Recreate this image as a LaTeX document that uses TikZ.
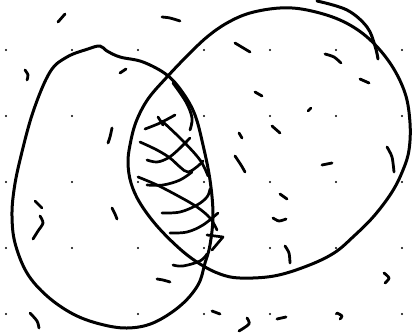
\documentclass[tikz,border=0pt]{standalone}
\usepackage{tikz}
\usetikzlibrary{calc}
\definecolor{cInk}{RGB}{0,0,0}
\tikzset{
	outline/.style ={draw=cInk, line width=3pt, line cap=round, line join=round},
	scribble/.style={draw=cInk, line width=2.8pt, line cap=round, line join=round},
	hatch/.style   ={draw=cInk, line width=2.7pt, line cap=round, line join=round},
	% grid of small dots behind the sketch
	griddot/.style ={fill=cInk, draw=none},
}
\begin{document}
\begin{tikzpicture}[x=1pt, y=-1pt]
	\useasboundingbox (0,0) rectangle (414,332);
	\fill[white] (0,0) rectangle (414,332);
	\foreach \gx in {6,72,138,204,270,336,402}
		\foreach \gy in {50,116,182,248,314}
			\fill[griddot] (\gx,\gy) circle (1.2pt);
	% left set
	\draw[outline] plot[smooth cycle, tension=0.6] coordinates {(100,46) (107,51) (120,57) (143,62) (167,75) (183,93) (195,115) (203,145) (210,180) (213,215) (210,245) (205,263) (198,285) (180,306) (153,323) (127,328) (100,324) (73,314) (47,296) (27,273) (15,243) (12,216) (14,190) (20,160) (33,112) (50,72) (67,57) (88,49)};
	% right set
	\draw[outline] plot[smooth cycle, tension=0.6] coordinates {(207,37) (227,23) (250,13) (280,8) (307,10) (340,20) (367,37) (390,63) (405,93) (410,123) (409,150) (403,170) (392,192) (374,216) (354,236) (334,253) (307,266) (274,276) (240,278) (220,274) (200,264) (180,249) (157,226) (140,203) (131,183) (128,163) (130,145) (136,122) (148,99) (167,77) (187,56)};
	\draw[outline] plot[smooth, tension=0.6] coordinates {(317,1) (347,10) (367,27) (375,46) (378,59)};
	\draw[scribble] plot[smooth, tension=0.6] coordinates {(173,83) (186,102) (192,118) (190,130)};
	% hatching in the overlap
	\draw[hatch] plot[smooth, tension=0.6] coordinates {(145,129) (160,123) (175,115)};
	\draw[hatch] (158,117) -- (163,125);
	\draw[hatch] plot[smooth, tension=0.6] coordinates {(162,121) (182,140) (200,160) (208,176)};
	\draw[hatch] plot[smooth, tension=0.6] coordinates {(140,142) (157,150) (170,158) (180,167) (188,172) (198,166) (203,161)};
	\draw[hatch] plot[smooth, tension=0.6] coordinates {(147,160) (157,162) (168,158) (178,150) (190,138)};
	\draw[hatch] plot[smooth, tension=0.6] coordinates {(138,177) (157,185) (180,197) (197,207) (210,218) (217,230)};
	\draw[hatch] plot[smooth, tension=0.6] coordinates {(147,185) (163,185) (180,180) (192,172)};
	\draw[hatch] plot[smooth, tension=0.6] coordinates {(162,213) (180,212) (197,205) (207,197) (210,189)};
	\draw[hatch] plot[smooth, tension=0.6] coordinates {(170,233) (187,232) (203,225) (218,213)};
	\draw[hatch] plot[smooth, tension=0.6] coordinates {(173,265) (183,266) (200,261) (207,254)};
	\draw[hatch] (207,235) -- (223,237) -- (212,250);
	% loose strokes
	\draw[scribble] (58,22) -- (65,14);
	\draw[scribble] plot[smooth] coordinates {(162,17) (170,18) (180,21)};
	\draw[scribble] plot[smooth] coordinates {(25,70) (28,75) (27,80)};
	\draw[scribble] (120,73) -- (126,69);
	\draw[scribble] plot[smooth] coordinates {(112,128) (110,137) (108,143)};
	\draw[scribble] (235,43) -- (250,52);
	\draw[scribble] plot[smooth] coordinates {(325,54) (334,57) (341,63)};
	\draw[scribble] (360,79) -- (369,83);
	\draw[scribble] (255,92) -- (262,96);
	\draw[scribble] (308,111) -- (311,108);
	\draw[scribble] (272,126) -- (280,133);
	\draw[scribble] (239,133) -- (242,138);
	\draw[scribble] plot[smooth] coordinates {(235,156) (241,165) (245,172)};
	\draw[scribble] plot[smooth] coordinates {(387,147) (392,157) (394,172)};
	\draw[scribble] (322,165) -- (332,163);
	\draw[scribble] (35,201) -- (42,208);
	\draw[scribble] plot[smooth] coordinates {(40,216) (43,223) (38,231) (33,239)};
	\draw[scribble] plot[smooth] coordinates {(112,208) (115,214) (117,219)};
	\draw[scribble] plot[smooth] coordinates {(157,279) (163,280) (170,282)};
	\draw[scribble] plot[smooth] coordinates {(30,313) (37,321) (39,328)};
	\draw[scribble] (280,194) -- (287,199);
	\draw[scribble] plot[smooth] coordinates {(273,218) (279,221) (286,219)};
	\draw[scribble] plot[smooth] coordinates {(285,246) (289,253) (290,263)};
	\draw[scribble] plot[smooth] coordinates {(384,273) (389,278) (385,283)};
	\draw[scribble] (212,311) -- (220,314);
	\draw[scribble] plot[smooth] coordinates {(247,318) (249,324) (239,331)};
	\draw[scribble] (277,319) -- (286,317);
	\draw[scribble] plot[smooth] coordinates {(337,313) (342,316) (340,319)};
\end{tikzpicture}
\end{document}
